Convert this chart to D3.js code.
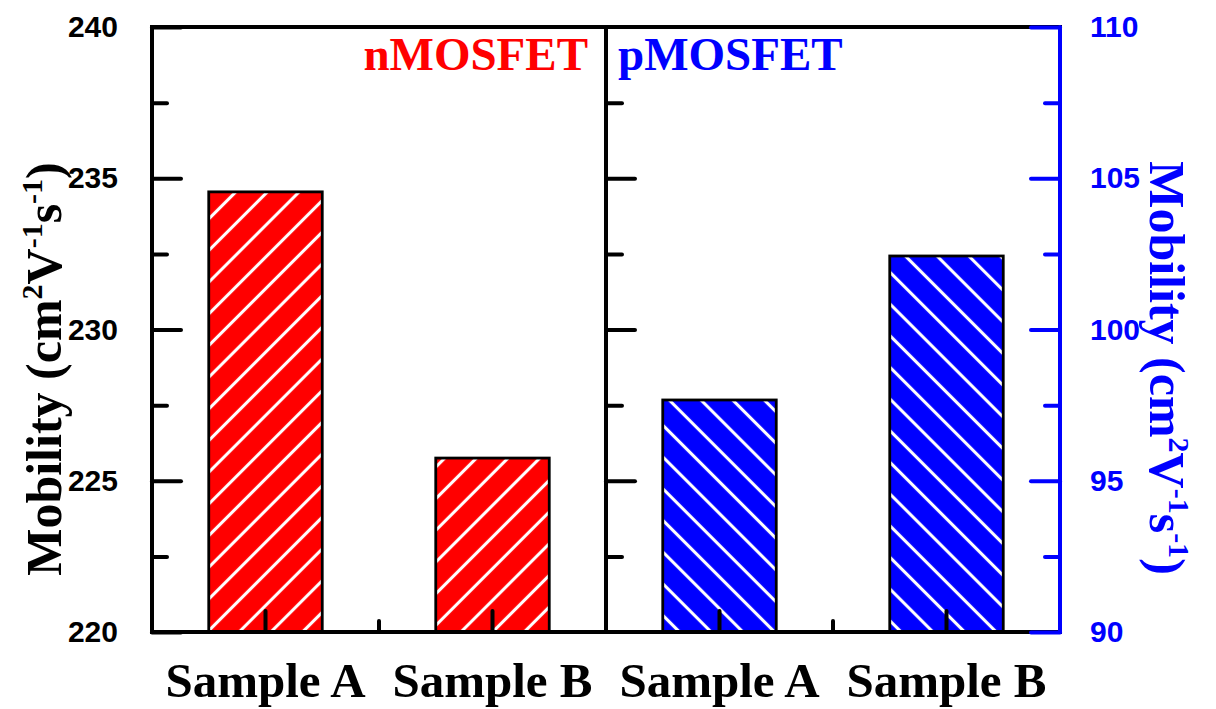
<!DOCTYPE html>
<html>
<head>
<meta charset="utf-8">
<script src="https://cdn.jsdelivr.net/npm/d3@7"></script>
<style>
  html, body { margin: 0; padding: 0; background: #fff; }
  svg { display: block; }
</style>
</head>
<body>
<svg id="chart" width="1216" height="709"></svg>
<script>
// Field-effect mobility of two samples, n-channel (left axis) and p-channel (right axis)
const categories = ["Sample A", "Sample B"];
const nMobility = [234.55, 225.75];   // nMOSFET, cm^2 V^-1 s^-1
const pMobility = [97.67, 102.43];    // pMOSFET, cm^2 V^-1 s^-1
const nTicks = [220, 225, 230, 235, 240];
const nMinorTicks = [222.5, 227.5, 232.5, 237.5];
const pTicks = [90, 95, 100, 105, 110];
const pMinorTicks = [92.5, 97.5, 102.5, 107.5];
const groups = ["nMOSFET", "pMOSFET"];

const RED = "#ff0000", BLUE = "#0000ff";
const SANS = "'Liberation Sans', Arial, sans-serif";
const SERIF = "'Liberation Serif', 'Times New Roman', serif";

const svg = d3.select("#chart");
const plotL = 152, plotR = 1060, plotT = 27, plotB = 632;

// One band per (group, sample) pair
const keys = groups.flatMap(g => categories.map(c => g + "|" + c));
const x = d3.scaleBand().domain(keys).range([plotL, plotR]).paddingInner(0.5).paddingOuter(0.25);
const mid = x(keys[2]) - x.step() * 0.25; // boundary between the two panels

const yN = d3.scaleLinear().domain([220, 240]).range([plotB, plotT]);
const yP = d3.scaleLinear().domain([90, 110]).range([plotB, plotT]);

// Hatch fills
const defs = svg.append("defs");
function hatch(id, color, angle) {
  const s = 22.4;
  const p = defs.append("pattern").attr("id", id)
    .attr("patternUnits", "userSpaceOnUse")
    .attr("width", s).attr("height", s)
    .attr("patternTransform", `rotate(${angle})`);
  p.append("rect").attr("width", s).attr("height", s).attr("fill", color);
  p.append("line").attr("x1", s / 2).attr("x2", s / 2).attr("y1", -1).attr("y2", s + 1)
    .attr("stroke", "#fff").attr("stroke-width", 3.1);
}
hatch("hatchN", RED, 45);
hatch("hatchP", BLUE, -45);

// Bars
const barData = [
  ...categories.map((c, i) => ({ key: "nMOSFET|" + c, v: nMobility[i], y: yN, fill: "url(#hatchN)" })),
  ...categories.map((c, i) => ({ key: "pMOSFET|" + c, v: pMobility[i], y: yP, fill: "url(#hatchP)" }))
];
svg.append("g").selectAll("rect").data(barData).join("rect")
  .attr("x", d => x(d.key))
  .attr("width", x.bandwidth())
  .attr("y", d => d.y(d.v))
  .attr("height", d => plotB - d.y(d.v))
  .attr("fill", d => d.fill)
  .attr("stroke", "#000").attr("stroke-width", 2.8);

// Frame
svg.append("rect").attr("x", plotL).attr("y", plotT)
  .attr("width", plotR - plotL).attr("height", plotB - plotT)
  .attr("fill", "none").attr("stroke", "#000").attr("stroke-width", 4);

function styleAxis(g, color) {
  g.select(".domain").remove();
  g.selectAll(".tick line").attr("stroke", color).attr("stroke-width", 4).attr("stroke-linecap", "round");
  g.selectAll(".tick text").attr("fill", color)
    .style("font-family", SANS).style("font-weight", "bold").style("font-size", "30px");
}

// Bottom axis: major ticks at samples, minor ticks between them
const xAxisG = svg.append("g").attr("transform", `translate(0,${plotB})`)
  .call(d3.axisBottom(x).tickSize(-21).tickSizeOuter(0).tickFormat(d => d.split("|")[1]));
styleAxis(xAxisG, "#000");
xAxisG.selectAll(".tick line").attr("y1", -2);
xAxisG.selectAll(".tick text").attr("y", 65).attr("dy", 0)
  .style("font-family", SERIF).style("font-size", "49px");
const minorX = groups.map(g => (x(g + "|" + categories[0]) + x(g + "|" + categories[1]) + x.bandwidth()) / 2);
svg.append("g").selectAll("line").data(minorX).join("line")
  .attr("x1", d => d).attr("x2", d => d).attr("y1", plotB - 2).attr("y2", plotB - 11)
  .attr("stroke", "#000").attr("stroke-width", 4).attr("stroke-linecap", "round");

// Left axis (nMOSFET)
const yNG = svg.append("g").attr("transform", `translate(${plotL},0)`)
  .call(d3.axisLeft(yN).tickValues(nTicks).tickSize(-29).tickPadding(34).tickFormat(d3.format("d")));
styleAxis(yNG, "#000");
const yNm = svg.append("g").attr("transform", `translate(${plotL},0)`)
  .call(d3.axisLeft(yN).tickValues(nMinorTicks).tickSize(-15).tickFormat(""));
styleAxis(yNm, "#000");

// Panel divider with inward ticks
svg.append("line").attr("x1", mid).attr("x2", mid).attr("y1", plotT).attr("y2", plotB)
  .attr("stroke", "#000").attr("stroke-width", 4);
const dG = svg.append("g").attr("transform", `translate(${mid},0)`)
  .call(d3.axisLeft(yP).tickValues(pTicks.slice(1, -1)).tickSize(-29).tickFormat(""));
styleAxis(dG, "#000");
const dGm = svg.append("g").attr("transform", `translate(${mid},0)`)
  .call(d3.axisLeft(yP).tickValues(pMinorTicks).tickSize(-16).tickFormat(""));
styleAxis(dGm, "#000");

// Right axis (pMOSFET), blue
svg.append("line").attr("x1", plotR).attr("x2", plotR).attr("y1", plotT).attr("y2", plotB)
  .attr("stroke", BLUE).attr("stroke-width", 4).attr("stroke-linecap", "round");
const yPG = svg.append("g").attr("transform", `translate(${plotR},0)`)
  .call(d3.axisRight(yP).tickValues(pTicks).tickSize(-29).tickPadding(30).tickFormat(d3.format("d")));
styleAxis(yPG, BLUE);
const yPm = svg.append("g").attr("transform", `translate(${plotR},0)`)
  .call(d3.axisRight(yP).tickValues(pMinorTicks).tickSize(-15).tickFormat(""));
styleAxis(yPm, BLUE);

// Panel labels
svg.append("text").attr("x", 588).attr("y", 70).attr("text-anchor", "end")
  .attr("fill", RED).style("font-family", SERIF).style("font-weight", "bold").style("font-size", "47px")
  .text(groups[0]);
svg.append("text").attr("x", 618).attr("y", 70).attr("text-anchor", "start")
  .attr("fill", BLUE).style("font-family", SERIF).style("font-weight", "bold").style("font-size", "47px")
  .text(groups[1]);

// Axis titles with superscripts
function unitTitle(tx, ty, angle, color) {
  const t = svg.append("text")
    .attr("transform", `translate(${tx},${ty}) rotate(${angle})`)
    .attr("text-anchor", "middle").attr("fill", color)
    .style("font-family", SERIF).style("font-weight", "bold").style("font-size", "50px");
  const parts = [["Mobility (cm", false], ["2", true], ["V", false], ["-1", true], ["s", false], ["-1", true], [")", false]];
  parts.forEach(([s, sup]) => {
    const ts = t.append("tspan").text(s);
    if (sup) ts.attr("baseline-shift", "62%").style("font-size", "30px");
  });
}
unitTitle(61, 369, -90, "#000");
unitTitle(1150, 368, 90, BLUE);
</script>
</body>
</html>
